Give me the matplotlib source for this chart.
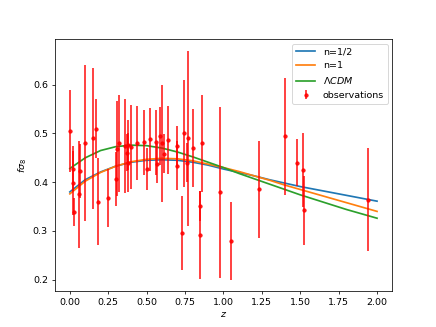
import numpy as np
import matplotlib
matplotlib.use("Agg")
import matplotlib.pyplot as plt

# growth rate observations (z, f*sigma8, error)
obs_z = [0.001, 0.02, 0.02, 0.03, 0.06, 0.067, 0.10, 0.15, 0.17, 0.18,
         0.25, 0.30, 0.31, 0.32, 0.36, 0.37, 0.38, 0.38, 0.40, 0.44,
         0.48, 0.50, 0.52, 0.56, 0.57, 0.59, 0.60, 0.61, 0.64, 0.70,
         0.70, 0.727, 0.74, 0.76, 0.77, 0.80, 0.85, 0.85, 0.86, 0.978,
         1.05, 1.23, 1.40, 1.48, 1.52, 1.526, 1.944]
obs_fs8 = [0.505, 0.428, 0.398, 0.339, 0.375, 0.423, 0.480, 0.490, 0.510, 0.360,
           0.367, 0.407, 0.469, 0.480, 0.474, 0.460, 0.477, 0.440, 0.473, 0.481,
           0.482, 0.427, 0.488, 0.482, 0.438, 0.495, 0.480, 0.458, 0.486, 0.474,
           0.434, 0.296, 0.500, 0.440, 0.490, 0.470, 0.351, 0.291, 0.480, 0.379,
           0.280, 0.385, 0.494, 0.440, 0.426, 0.342, 0.364]
obs_err = [0.085, 0.047, 0.065, 0.028, 0.110, 0.055, 0.160, 0.145, 0.060, 0.090,
           0.060, 0.055, 0.098, 0.100, 0.097, 0.038, 0.051, 0.060, 0.086, 0.076,
           0.067, 0.043, 0.065, 0.067, 0.040, 0.060, 0.120, 0.040, 0.070, 0.042,
           0.050, 0.0765, 0.110, 0.040, 0.180, 0.080, 0.030, 0.090, 0.100, 0.176,
           0.080, 0.099, 0.120, 0.048, 0.076, 0.070, 0.106]

# model curves at steps of 0.1 in z
model_z = [0.0, 0.1, 0.2, 0.3, 0.4, 0.5, 0.6, 0.7, 0.8, 0.9, 1.0,
           1.1, 1.2, 1.3, 1.4, 1.5, 1.6, 1.7, 1.8, 1.9, 2.0]
fs8_half = [0.380, 0.405, 0.421, 0.433, 0.441, 0.445, 0.446, 0.445, 0.441, 0.435, 0.427,
            0.420, 0.413, 0.405, 0.398, 0.391, 0.385, 0.379, 0.373, 0.367, 0.361]
fs8_one = [0.376, 0.402, 0.420, 0.433, 0.442, 0.447, 0.449, 0.448, 0.444, 0.437, 0.430,
           0.422, 0.413, 0.404, 0.394, 0.385, 0.376, 0.367, 0.358, 0.349, 0.340]
fs8_lcdm = [0.428, 0.450, 0.465, 0.473, 0.476, 0.475, 0.470, 0.462, 0.452, 0.441, 0.430,
            0.418, 0.407, 0.396, 0.385, 0.374, 0.364, 0.354, 0.344, 0.335, 0.326]

plt.figure(figsize=(6.4, 4.8), dpi=68.125)

plt.plot(model_z, fs8_half, linewidth=1.8, label="n=1/2")
plt.plot(model_z, fs8_one, linewidth=1.8, label="n=1")
plt.plot(model_z, fs8_lcdm, linewidth=1.8, label=r"$\Lambda CDM$")

# observations on top of the curves
plt.errorbar(obs_z, obs_fs8, yerr=obs_err, fmt="o", color="red",
             markersize=3.5, elinewidth=1.8, alpha=0.85, label="observations")

plt.xlabel(r"$z$")
plt.ylabel(r"$f\sigma_8$")
plt.legend(loc="upper right")
plt.savefig("out.png", dpi=68.125)
